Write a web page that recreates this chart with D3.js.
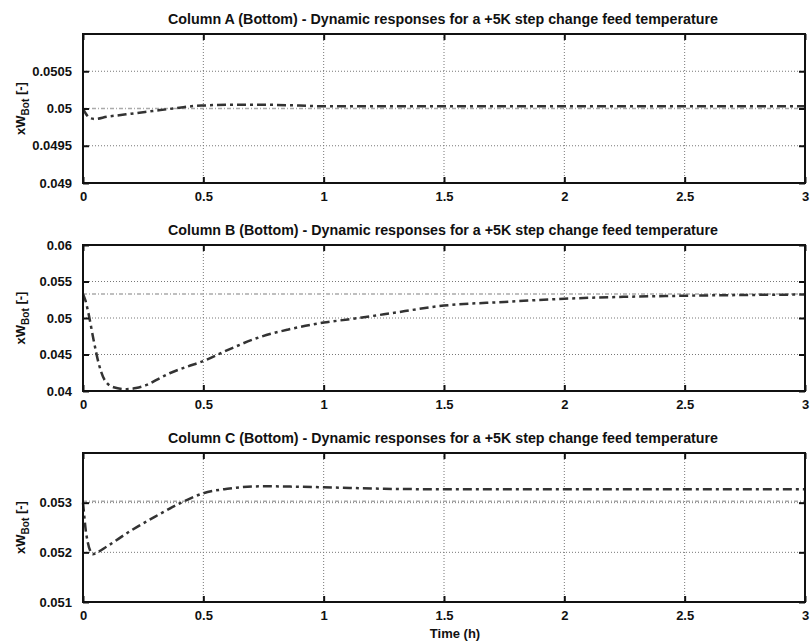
<!DOCTYPE html>
<html>
<head>
<meta charset="utf-8">
<script src="https://cdn.jsdelivr.net/npm/d3@7"></script>
<style>
  body { margin: 0; background: #fff; }
  text { font-family: "Liberation Sans", Arial, sans-serif; font-weight: bold; fill: #111; }
</style>
</head>
<body>
<svg id="chart" width="810" height="641"></svg>
<script>
// time axis shared by the three panels
var xTicks = [0, 0.5, 1, 1.5, 2, 2.5, 3]
var titles = [
  "Column A (Bottom) - Dynamic responses for a +5K step change feed temperature",
  "Column B (Bottom) - Dynamic responses for a +5K step change feed temperature",
  "Column C (Bottom) - Dynamic responses for a +5K step change feed temperature"
]

// Column A
var timeA = [0, 0.01, 0.03, 0.05, 0.1, 0.15, 0.2, 0.25, 0.3, 0.35, 0.4, 0.45, 0.5, 0.6, 0.75, 0.9, 1, 1.25, 1.5, 2, 2.5, 3]
var xwA = [0.05, 0.04994, 0.04987, 0.04986, 0.04989, 0.04991, 0.04993, 0.04995, 0.04997, 0.04999, 0.05001, 0.05003, 0.05004, 0.05005, 0.05005, 0.05004, 0.05003, 0.05003, 0.05003, 0.05003, 0.05003, 0.05003]
var refA = 0.05
var yTicksA = [0.049, 0.0495, 0.05, 0.0505]

// Column B
var timeB = [0, 0.01, 0.023, 0.044, 0.065, 0.09, 0.127, 0.18, 0.22, 0.265, 0.31, 0.36, 0.43, 0.5, 0.6, 0.736, 0.85, 1, 1.1, 1.25, 1.5, 1.75, 2, 2.25, 2.5, 2.75, 3]
var xwB = [0.0533, 0.0524, 0.0506, 0.0470, 0.0438, 0.0415, 0.04052, 0.04025, 0.0404, 0.04083, 0.0416, 0.04243, 0.0433, 0.0441, 0.0456, 0.0474, 0.0484, 0.04937, 0.0498, 0.0505, 0.0517, 0.0522, 0.05264, 0.0529, 0.05305, 0.05315, 0.05322]
var refB = 0.0533
var yTicksB = [0.04, 0.045, 0.05, 0.055, 0.06]

// Column C
var timeC = [0, 0.005, 0.01, 0.02, 0.03, 0.04, 0.06, 0.1, 0.2, 0.3, 0.4, 0.5, 0.6, 0.75, 0.9, 1, 1.25, 1.5, 2, 2.5, 3]
var xwC = [0.0530, 0.05275, 0.0525, 0.0522, 0.05203, 0.05196, 0.05200, 0.05212, 0.05244, 0.05272, 0.05298, 0.05319, 0.05328, 0.05333, 0.05332, 0.05331, 0.05328, 0.05327, 0.05327, 0.05327, 0.05327]
var refC = 0.05303
var yTicksC = [0.051, 0.052, 0.053]

var panels = [
  { t: timeA, v: xwA, ref: refA, yTicks: yTicksA, yDomain: [0.049, 0.051], top: 34, bottom: 183, title: titles[0] },
  { t: timeB, v: xwB, ref: refB, yTicks: yTicksB, yDomain: [0.04, 0.06], top: 245, bottom: 391, title: titles[1] },
  { t: timeC, v: xwC, ref: refC, yTicks: yTicksC, yDomain: [0.051, 0.054], top: 453, bottom: 602, title: titles[2] }
]

var svg = d3.select("#chart")
var left = 83, right = 805

panels.forEach(function(p, i) {
  var x = d3.scaleLinear().domain([0, 3]).range([left, right])
  var y = d3.scaleLinear().domain(p.yDomain).range([p.bottom, p.top])
  var g = svg.append("g")

  // grid
  g.selectAll("line.vgrid")
    .data(xTicks.slice(1, -1))
    .join("line")
    .attr("x1", d => x(d)).attr("x2", d => x(d))
    .attr("y1", p.top).attr("y2", p.bottom)
    .style("stroke", "#777").style("stroke-width", "1px").style("stroke-dasharray", "1,2")
  g.selectAll("line.hgrid")
    .data(p.yTicks.filter(d => d > p.yDomain[0] && d < p.yDomain[1]))
    .join("line")
    .attr("x1", left).attr("x2", right)
    .attr("y1", d => y(d)).attr("y2", d => y(d))
    .style("stroke", "#777").style("stroke-width", "1px").style("stroke-dasharray", "1,2")

  // set point reference
  g.append("line")
    .attr("x1", left).attr("x2", right)
    .attr("y1", y(p.ref)).attr("y2", y(p.ref))
    .style("stroke", "#aaa").style("stroke-width", "1.5px").style("stroke-dasharray", "4,2,1,2")

  // response
  var line = d3.line().x((d, j) => x(p.t[j])).y(d => y(d)).curve(d3.curveMonotoneX)
  g.append("path")
    .attr("d", line(p.v))
    .style("fill", "none")
    .style("stroke", "#333")
    .style("stroke-width", "2.5px")
    .style("stroke-dasharray", "9,4,3,4")

  // axes (ticks inside, like matlab)
  var xb = d3.axisBottom(x).tickValues(xTicks).tickSize(-6).tickPadding(9).tickFormat(d3.format("~g"))
  var xt = d3.axisTop(x).tickValues(xTicks).tickSize(-6).tickFormat("")
  var yl = d3.axisLeft(y).tickValues(p.yTicks).tickSize(-6).tickPadding(11).tickFormat(d3.format("~g"))
  var yr = d3.axisRight(y).tickValues(p.yTicks).tickSize(-6).tickFormat("")
  ;[[xb, "translate(0," + p.bottom + ")"], [xt, "translate(0," + p.top + ")"],
    [yl, "translate(" + left + ",0)"], [yr, "translate(" + right + ",0)"]].forEach(function(a) {
    var ax = g.append("g").attr("transform", a[1]).call(a[0])
    ax.select(".domain").remove()
    ax.selectAll("line").style("stroke", "#111").style("stroke-width", "2px")
    ax.selectAll("text").style("font-size", "13px").style("font-family", "'Liberation Sans', Arial, sans-serif").style("font-weight", "bold").style("fill", "#111")
  })

  g.append("rect")
    .attr("x", left).attr("y", p.top)
    .attr("width", right - left).attr("height", p.bottom - p.top)
    .style("fill", "none").style("stroke", "#111").style("stroke-width", "2px")

  g.append("text")
    .attr("x", 443).attr("y", p.top - 10)
    .attr("text-anchor", "middle")
    .attr("textLength", 550)
    .attr("lengthAdjust", "spacingAndGlyphs")
    .style("font-size", "14px")
    .text(p.title)

  var yc = (p.top + p.bottom) / 2
  var lab = g.append("text")
    .attr("transform", "translate(25," + yc + ") rotate(-90)")
    .attr("text-anchor", "middle")
    .style("font-size", "13px")
  lab.append("tspan").text("xW")
  lab.append("tspan").attr("dy", 4).style("font-size", "10px").text("Bot")
  lab.append("tspan").attr("dy", -4).text(" [-]")
})

svg.append("text")
  .attr("x", 455).attr("y", 638)
  .attr("text-anchor", "middle")
  .style("font-size", "13px")
  .text("Time (h)")
</script>
</body>
</html>
